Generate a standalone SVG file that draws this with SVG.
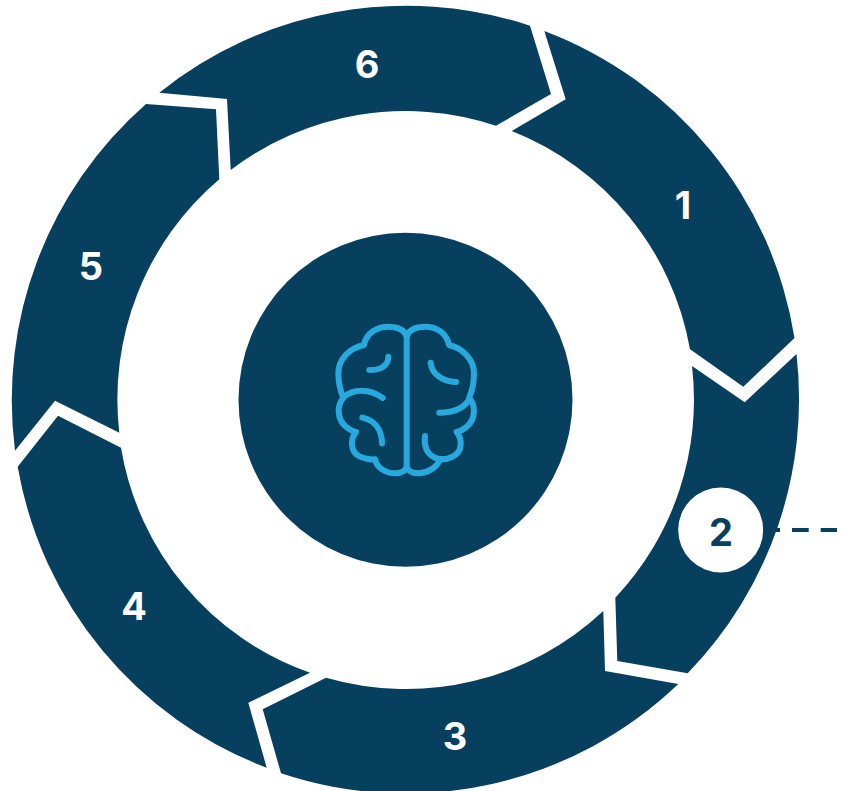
<svg xmlns="http://www.w3.org/2000/svg" width="843" height="791" viewBox="0 0 843 791">
  <style>
    .seg { fill: #07405E; }
    .num { font-family: "Inter", "Liberation Sans", sans-serif; font-size: 38px; font-weight: 700; text-anchor: middle; fill: #ffffff; }
    .num.dark { fill: #07405E; }
    .brain path { fill: none; stroke: #27A9DD; stroke-width: 18; stroke-linecap: round; stroke-linejoin: round; }
  </style>
  <rect width="843" height="791" fill="#ffffff"/>
  <g id="segment-1">
    <path class="seg" d="M544.3 31A394 394 0 0 1 794.5 338L743.3 386.7L690 349.3A288.5 288.5 0 0 0 511.7 131L565.7 99.3Z"/>
    <text class="num" x="683" y="219">1</text>
  </g>
  <g id="segment-2">
    <path class="seg" d="M796.5 354A394 394 0 0 1 687.7 673.3L617.3 661L615.3 597.7A288.5 288.5 0 0 0 692 366L744.7 402.3Z"/>
    <circle cx="720.7" cy="530" r="42.5" fill="#ffffff"/>
    <text class="num dark" x="721" y="546">2</text>
  </g>
  <g id="segment-3">
    <path class="seg" d="M678.3 684A394 394 0 0 1 281 773.3L262.7 709.3L326 677.7A288.5 288.5 0 0 0 603.3 611L605 671Z"/>
    <text class="num" x="455" y="750">3</text>
  </g>
  <g id="segment-4">
    <path class="seg" d="M266.7 767.7A394 394 0 0 1 17.7 466.7L58 415.7L121 447.7A288.5 288.5 0 0 0 310 672.7L248.3 702.7Z"/>
    <text class="num" x="134" y="620">4</text>
  </g>
  <g id="segment-5">
    <path class="seg" d="M15 450.7A394 394 0 0 1 146 104L216 109.3L219.3 179.3A288.5 288.5 0 0 0 119.3 432.7L55 400.7Z"/>
    <text class="num" x="91" y="280">5</text>
  </g>
  <g id="segment-6">
    <path class="seg" d="M159.3 92.7A394 394 0 0 1 530 25.7L551 94L496 125.7A288.5 288.5 0 0 0 230.7 170L227 99Z"/>
    <text class="num" x="367" y="78">6</text>
  </g>
  <g id="center">
    <circle class="seg" cx="405.5" cy="399.7" r="167"/>
    <g class="brain" transform="translate(320 310) scale(0.3333)">
      <path d="M260 72V478"/>
      <path d="M260 78C250 55 225 50 205 50C170 50 138 70 132 105C85 115 55 150 55 190C55 225 62 245 70 264C50 285 50 330 80 352C90 360 100 364 108 366C92 385 88 425 120 440C135 447 150 449 165 448C170 475 200 490 225 490C245 490 255 482 260 472"/>
      <path d="M260 78C270 55 295 50 315 50C350 50 380 70 387 105C430 115 462 150 462 190C462 225 456 245 447 264C468 285 468 330 438 352C428 360 418 364 410 366C426 385 430 425 398 440C385 447 375 449 360 448C350 475 320 490 295 490C275 490 265 482 260 472"/>
      <path d="M205 140C205 165 185 180 148 180"/>
      <path d="M70 262C100 235 150 235 188 264"/>
      <path d="M127 323C160 330 185 355 186 400"/>
      <path d="M332 158C335 190 365 215 408 216"/>
      <path d="M358 308C400 308 430 295 447 270"/>
      <path d="M315 378C310 420 330 445 365 448"/>
    </g>
  </g>
  <g id="connectors">
    <path d="M763.3 530H837" fill="none" stroke="#07405E" stroke-width="4" stroke-dasharray="16.7 12"/>
  </g>
</svg>
